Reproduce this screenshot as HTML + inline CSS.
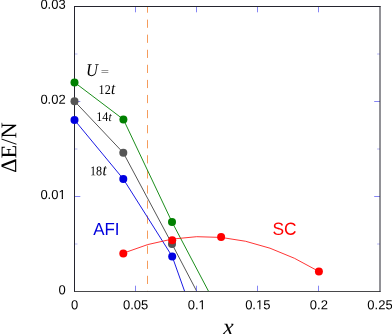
<!DOCTYPE html>
<html><head><meta charset="utf-8"><title>plot</title>
<style>html,body{margin:0;padding:0;background:#fff;overflow:hidden}body{width:392px;height:334px;position:relative;font-family:"Liberation Sans",sans-serif}</style>
</head><body>
<svg width="392" height="334" viewBox="0 0 392 334" style="position:absolute;left:0;top:0;will-change:transform">

<line x1="147.5" y1="6.5" x2="147.5" y2="291.5" stroke="#f59c5c" stroke-width="1" stroke-dasharray="8.2,6.87" stroke-dashoffset="1.97"/>
<polyline fill="none" stroke="#008000" stroke-width="0.9" points="74.5,82.4 123.4,119.4 172,222 208.4,291"/>
<polyline fill="none" stroke="#555555" stroke-width="1.0" points="74.5,101.2 123.3,152.8 172,244.0 196.6,291"/>
<polyline fill="none" stroke="#0000e0" stroke-width="0.9" points="74.5,120 123.3,179 172.2,256.4"/>
<path d="M172.2,256.4 L184.7,291.5" fill="none" stroke="#0000e0" stroke-width="0.9"/>
<path d="M123.3,253.18 Q221.10,212.52 318.9,271.46" fill="none" stroke="#ff0000" stroke-width="0.8"/>
<line x1="135.50" y1="291.5" x2="135.50" y2="285.7" stroke="#5c5cf0" stroke-width="0.75"/>
<line x1="135.50" y1="6.5" x2="135.50" y2="12.3" stroke="#5c5cf0" stroke-width="0.75"/>
<line x1="196.50" y1="291.5" x2="196.50" y2="285.7" stroke="#5c5cf0" stroke-width="0.75"/>
<line x1="196.50" y1="6.5" x2="196.50" y2="12.3" stroke="#5c5cf0" stroke-width="0.75"/>
<line x1="257.50" y1="291.5" x2="257.50" y2="285.7" stroke="#5c5cf0" stroke-width="0.75"/>
<line x1="257.50" y1="6.5" x2="257.50" y2="12.3" stroke="#5c5cf0" stroke-width="0.75"/>
<line x1="318.50" y1="291.5" x2="318.50" y2="285.7" stroke="#5c5cf0" stroke-width="0.75"/>
<line x1="318.50" y1="6.5" x2="318.50" y2="12.3" stroke="#5c5cf0" stroke-width="0.75"/>
<line x1="74.5" y1="244.00" x2="77.4" y2="244.00" stroke="#5c5cf0" stroke-width="0.75" opacity="0.6"/>
<line x1="380.0" y1="244.00" x2="377.1" y2="244.00" stroke="#5c5cf0" stroke-width="0.75" opacity="0.6"/>
<line x1="74.5" y1="196.50" x2="80.3" y2="196.50" stroke="#5c5cf0" stroke-width="0.75" opacity="1"/>
<line x1="380.0" y1="196.50" x2="374.2" y2="196.50" stroke="#5c5cf0" stroke-width="0.75" opacity="1"/>
<line x1="74.5" y1="149.00" x2="77.4" y2="149.00" stroke="#5c5cf0" stroke-width="0.75" opacity="0.6"/>
<line x1="380.0" y1="149.00" x2="377.1" y2="149.00" stroke="#5c5cf0" stroke-width="0.75" opacity="0.6"/>
<line x1="74.5" y1="101.50" x2="80.3" y2="101.50" stroke="#5c5cf0" stroke-width="0.75" opacity="1"/>
<line x1="380.0" y1="101.50" x2="374.2" y2="101.50" stroke="#5c5cf0" stroke-width="0.75" opacity="1"/>
<line x1="74.5" y1="54.00" x2="77.4" y2="54.00" stroke="#5c5cf0" stroke-width="0.75" opacity="0.6"/>
<line x1="380.0" y1="54.00" x2="377.1" y2="54.00" stroke="#5c5cf0" stroke-width="0.75" opacity="0.6"/>
<line x1="74.5" y1="6.0" x2="74.5" y2="292.0" stroke="#24242e" stroke-width="1"/>
<line x1="74.0" y1="6.5" x2="380.5" y2="6.5" stroke="#24242e" stroke-width="1"/>
<line x1="74.0" y1="291.5" x2="380.5" y2="291.5" stroke="#333336" stroke-width="0.9"/>
<line x1="380.0" y1="6.0" x2="380.0" y2="292.0" stroke="#24242e" stroke-width="1"/>
<circle cx="74.5" cy="82.4" r="4" fill="#008000"/>
<circle cx="123.4" cy="119.4" r="4" fill="#008000"/>
<circle cx="172" cy="222" r="4" fill="#008000"/>
<circle cx="74.5" cy="120" r="4" fill="#0000e0"/>
<circle cx="123.3" cy="179" r="4" fill="#0000e0"/>
<circle cx="172.2" cy="256.4" r="4" fill="#0000e0"/>
<circle cx="74.5" cy="101.2" r="4" fill="#555555"/>
<circle cx="123.3" cy="152.8" r="4" fill="#555555"/>
<circle cx="172" cy="244.0" r="4" fill="#555555"/>
<circle cx="123.3" cy="253.5" r="4" fill="#ff0000"/>
<circle cx="172.2" cy="240.2" r="4" fill="#ff0000"/>
<circle cx="221.1" cy="237.1" r="4" fill="#ff0000"/>
<circle cx="318.9" cy="271.4" r="4" fill="#ff0000"/>
<text transform="translate(74.50,309.3) rotate(0.04)" font-size="13" text-anchor="middle" font-family="Liberation Sans, sans-serif" fill="#000">0</text>
<text transform="translate(135.60,309.3) rotate(0.04)" font-size="13" text-anchor="middle" font-family="Liberation Sans, sans-serif" fill="#000">0.05</text>
<text transform="translate(196.70,309.3) rotate(0.04)" font-size="13" text-anchor="middle" font-family="Liberation Sans, sans-serif" fill="#000">0.1</text>
<text transform="translate(257.80,309.3) rotate(0.04)" font-size="13" text-anchor="middle" font-family="Liberation Sans, sans-serif" fill="#000">0.15</text>
<text transform="translate(318.90,309.3) rotate(0.04)" font-size="13" text-anchor="middle" font-family="Liberation Sans, sans-serif" fill="#000">0.2</text>
<text transform="translate(380.00,309.3) rotate(0.04)" font-size="13" text-anchor="middle" font-family="Liberation Sans, sans-serif" fill="#000">0.25</text>
<text transform="translate(65.7,294.30) rotate(0.04)" font-size="13" text-anchor="end" font-family="Liberation Sans, sans-serif" fill="#000">0</text>
<text transform="translate(65.7,199.00) rotate(0.04)" font-size="13" text-anchor="end" font-family="Liberation Sans, sans-serif" fill="#000">0.01</text>
<text transform="translate(65.7,103.80) rotate(0.04)" font-size="13" text-anchor="end" font-family="Liberation Sans, sans-serif" fill="#000">0.02</text>
<text transform="translate(65.7,8.80) rotate(0.04)" font-size="13" text-anchor="end" font-family="Liberation Sans, sans-serif" fill="#000">0.03</text>
<rect x="58.8" y="197.8" width="2.92" height="1.50" fill="#fff"/>
<rect x="62.95" y="197.8" width="3.05" height="1.50" fill="#fff"/>
<rect x="198.7" y="307.6" width="3.02" height="2.40" fill="#fff"/>
<rect x="202.95" y="307.6" width="3.05" height="2.40" fill="#fff"/>
<rect x="256.7" y="307.6" width="2.55" height="2.40" fill="#fff"/>
<rect x="260.45" y="307.6" width="2.55" height="2.40" fill="#fff"/>
<text transform="translate(16.2,147.6) rotate(-90.04)" font-size="22.4" text-anchor="middle" font-family="Liberation Serif, serif" fill="#000">ΔE/N</text>
<text transform="translate(228.4,334.8) rotate(0.04)" font-size="24" text-anchor="middle" font-style="italic" font-family="Liberation Serif, serif" fill="#000">x</text>
<text transform="translate(86.0,76.1) rotate(0.04) scale(0.92,1)" font-size="18" font-style="italic" font-family="Liberation Serif, serif" fill="#000">U</text>
<text transform="translate(100.8,75.0) rotate(0.04) scale(1.5,1)" font-size="9.8" font-family="Liberation Serif, serif" fill="#333">=</text>
<text transform="translate(98.6,94.0) rotate(0.04) scale(0.92,1)" font-size="13.2" font-family="Liberation Serif, serif" fill="#000">12<tspan font-style="italic" font-size="16.5" dx="0.3">t</tspan></text>
<text transform="translate(96.3,121.0) rotate(0.04) scale(0.92,1)" font-size="13.2" font-family="Liberation Serif, serif" fill="#000">14<tspan font-style="italic" font-size="12.4" dx="0.0">t</tspan></text>
<text transform="translate(89.9,175.2) rotate(0.04) scale(0.92,1)" font-size="13.2" font-family="Liberation Serif, serif" fill="#000">18<tspan font-style="italic" font-size="16.5" dx="0.6">t</tspan></text>
<text transform="translate(93.2,235) rotate(0.04) scale(0.975,1)" font-size="17.4" font-family="Liberation Sans, sans-serif" fill="#0000dd">AFI</text>
<text transform="translate(272.4,234.7) rotate(0.04)" font-size="17.4" font-family="Liberation Sans, sans-serif" fill="#ff0000">SC</text>
</svg>
</body></html>
